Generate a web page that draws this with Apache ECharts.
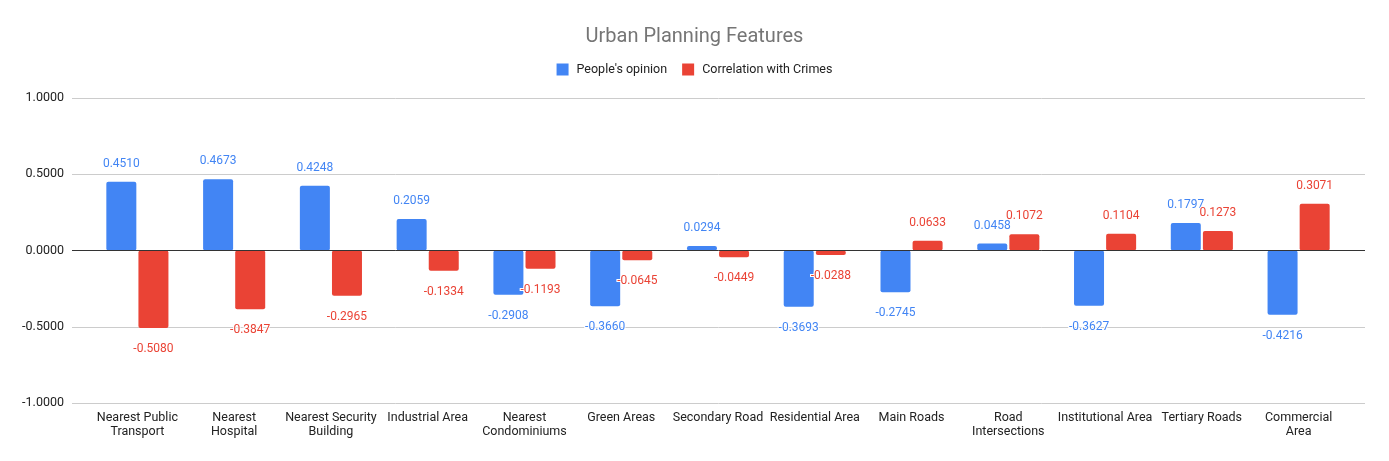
<!DOCTYPE html>
<html>
<head>
<meta charset="utf-8">
<script src="https://cdn.jsdelivr.net/npm/echarts@6/dist/echarts.min.js"></script>
<style>html,body{margin:0;padding:0;background:#fff}#c{width:1389px;height:461px}</style>
</head>
<body>
<div id="c"></div>
<script>
const categories = ['Nearest Public\nTransport','Nearest\nHospital','Nearest Security\nBuilding','Industrial Area','Nearest\nCondominiums','Green Areas','Secondary Road','Residential Area','Main Roads','Road\nIntersections','Institutional Area','Tertiary Roads','Commercial\nArea'];
const peopleOpinion = [0.4510, 0.4673, 0.4248, 0.2059, -0.2908, -0.3660, 0.0294, -0.3693, -0.2745, 0.0458, -0.3627, 0.1797, -0.4216];
const crimeCorrelation = [-0.5080, -0.3847, -0.2965, -0.1334, -0.1193, -0.0645, -0.0449, -0.0288, 0.0633, 0.1072, 0.1104, 0.1273, 0.3071];
const yTicks = [-1, -0.5, 0, 0.5, 1];

const BLUE = '#4285F4', RED = '#EA4335';
const FONT = 'Roboto, Arial, sans-serif';

function toData(vals, color) {
  return vals.map(v => ({
    value: v,
    label: {
      show: true,
      position: v >= 0 ? 'top' : 'bottom',
      distance: v >= 0 ? 12 : 15,
      color: color,
      fontSize: 12,
      fontFamily: FONT,
      textBorderColor: '#fff',
      textBorderWidth: 2,
      formatter: p => p.value.toFixed(4)
    }
  }));
}

const chart = echarts.init(document.getElementById('c'), null, {renderer: 'canvas'});
chart.setOption({
  animation: false,
  backgroundColor: '#fff',
  title: {
    text: 'Urban Planning Features',
    left: 'center', top: 22,
    textStyle: {color: '#757575', fontSize: 20, fontWeight: 'normal', fontFamily: FONT}
  },
  legend: {
    top: 58, left: 'center',
    itemWidth: 12, itemHeight: 12, itemGap: 15,
    icon: 'rect',
    textStyle: {color: '#222', fontSize: 12.5, fontFamily: FONT, padding: [0, 0, 0, 3]},
    data: ["People's opinion", 'Correlation with Crimes']
  },
  grid: [
    {left: 72, right: 24, top: 98, bottom: 58},
    {left: 89, right: 42, top: 98, bottom: 58}
  ],
  xAxis: [
    {gridIndex: 0, type: 'category', data: categories, show: false},
    {gridIndex: 1, type: 'category', data: categories,
     axisLine: {show: false}, axisTick: {show: false},
     axisLabel: {interval: 0, color: '#222', fontSize: 12.5, fontFamily: FONT, lineHeight: 14, margin: 8}}
  ],
  yAxis: [
    {gridIndex: 0, type: 'value', min: -1, max: 1, interval: 0.5,
     axisLine: {show: false}, axisTick: {show: false},
     axisLabel: {color: '#222', fontSize: 12.5, fontFamily: FONT, margin: 8, formatter: v => v.toFixed(4)},
     splitLine: {lineStyle: {color: '#cccccc', width: 1}}},
    {gridIndex: 1, type: 'value', min: -1, max: 1, interval: 0.5, show: false, splitLine: {show: false}}
  ],
  series: [
    {
      name: "People's opinion", type: 'bar', xAxisIndex: 1, yAxisIndex: 1,
      barWidth: 30, barGap: '7%',
      itemStyle: {color: BLUE, borderRadius: 2},
      data: toData(peopleOpinion, BLUE)
    },
    {
      name: 'Correlation with Crimes', type: 'bar', xAxisIndex: 1, yAxisIndex: 1,
      barWidth: 30, barGap: '7%',
      itemStyle: {color: RED, borderRadius: 2},
      data: toData(crimeCorrelation, RED)
    },
    {
      type: 'line', xAxisIndex: 0, yAxisIndex: 0, data: [], silent: true,
      markLine: {
        silent: true, symbol: 'none', label: {show: false},
        lineStyle: {color: '#333', width: 1, type: 'solid'},
        data: [{yAxis: 0}]
      }
    }
  ]
});
</script>
</body>
</html>
